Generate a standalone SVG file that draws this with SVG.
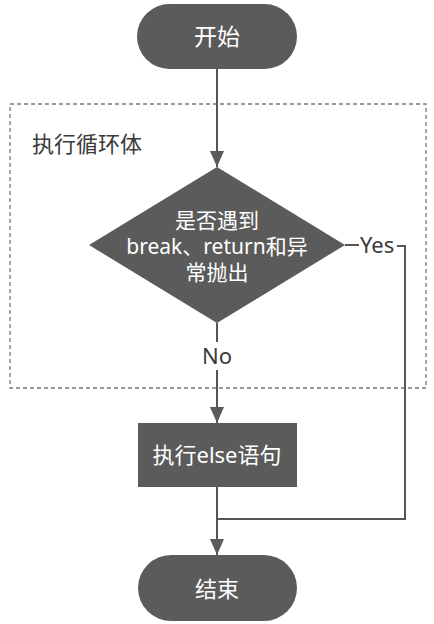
<svg xmlns="http://www.w3.org/2000/svg" width="434" height="624" viewBox="0 0 434 624">
<defs>
<style>
.node{fill:#5b5b5b;}
.wt{fill:#fff;font-family:"Noto Sans","Noto Sans CJK SC",sans-serif;font-size:22px;text-anchor:middle;}
.lbl{fill:#3a3a3a;font-family:"Noto Sans","Noto Sans CJK SC",sans-serif;font-size:22px;}
.ln{fill:none;stroke:#555;stroke-width:2;}
</style>
<marker id="arr" viewBox="0 0 16 14" refX="16" refY="7" markerWidth="16" markerHeight="14" markerUnits="userSpaceOnUse" orient="auto">
<path d="M0,0 L16,7 L0,14 Z" fill="#5b5b5b"/>
</marker>
</defs>
<rect width="434" height="624" fill="#fff"/>
<g id="loop">
<rect x="10" y="104" width="416" height="284" fill="none" stroke="#777" stroke-width="1.3" stroke-dasharray="4 3"/>
<text x="32" y="152" class="lbl">执行循环体</text>
</g>
<g id="connectors">
<line class="ln" x1="217" y1="69" x2="217" y2="167" marker-end="url(#arr)"/>
<line class="ln" x1="217" y1="323" x2="217" y2="342"/>
<text x="217" y="364" class="lbl" text-anchor="middle">No</text>
<line class="ln" x1="217" y1="370" x2="217" y2="423" marker-end="url(#arr)"/>
<line class="ln" x1="217" y1="487" x2="217" y2="555" marker-end="url(#arr)"/>
<line class="ln" x1="345" y1="245" x2="359" y2="245"/>
<text x="360" y="253" class="lbl">Yes</text>
<polyline class="ln" points="397,246 405,246 405,519 217,519"/>
</g>
<g id="start">
<rect x="137" y="4" width="160" height="65" rx="32.5" class="node"/>
<text x="217" y="45" class="wt" style="font-size:23px">开始</text>
</g>
<g id="decision">
<polygon points="217,167 345,245 217,323 89,245" class="node"/>
<text class="wt" style="font-size:21px"><tspan x="217" y="228">是否遇到</tspan><tspan x="217" y="254">break、return和异</tspan><tspan x="217" y="280">常抛出</tspan></text>
</g>
<g id="else">
<rect x="138" y="423" width="159" height="64" class="node"/>
<text x="217" y="463" class="wt">执行else语句</text>
</g>
<g id="end">
<rect x="138" y="555" width="159" height="66" rx="33" class="node"/>
<text x="217" y="597" class="wt">结束</text>
</g>
</svg>
